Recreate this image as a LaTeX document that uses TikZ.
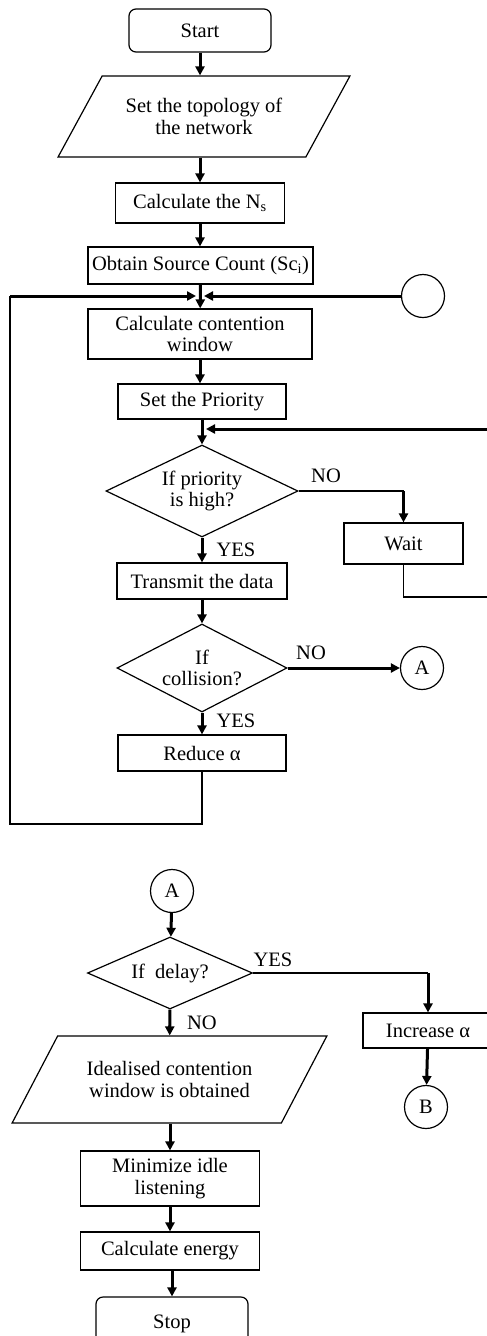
\documentclass[tikz,border=0pt]{standalone}
\usepackage{fontspec}
\setmainfont{Liberation Serif}
\usetikzlibrary{shapes.geometric,arrows.meta}

\tikzset{every picture/.style={line width=1.2pt},
  fc/.style={font=\fontsize{20.5}{21.7}\selectfont},
  box/.style={draw, rectangle, inner sep=0pt, align=center, fc},
  term/.style={box, rounded corners=7pt},
  io/.style={draw, trapezium, trapezium left angle=47, trapezium right angle=133, trapezium stretches=true, inner sep=0pt, align=center, fc},
  decision/.style={draw, diamond, inner sep=0pt, align=center, fc},
  conn/.style={draw, circle, inner sep=0pt, minimum size=43pt, fc},
  lbl/.style={inner sep=0pt, fc},
  thinline/.style={line width=1.2pt},
  flow/.style={line width=3pt, -{Triangle[length=9pt,width=9pt]}},
}

\begin{document}
\begin{tikzpicture}[x=1pt,y=1pt,yscale=-1,xscale=1]
\useasboundingbox (0,0) rectangle (487,1336);

%Terminal
\node [term, minimum width=142pt, minimum height=43pt] (start) at (200,30.5) {Start};
%Parallelogram
\node [io, minimum width=292pt, minimum height=81pt] (topo) at (204,116.5) {Set the topology of\\the network};
%Boxes
\node [box, minimum width=169pt, minimum height=40pt] (ns) at (200,203) {Calculate the N\textsubscript{s}};
\node [box, minimum width=225pt, minimum height=37pt] (src) at (200.5,265.5) {Obtain Source Count (Sc\textsubscript{i})};
\node [box, minimum width=224pt, minimum height=50pt] (cw) at (200,334) {Calculate contention\\window};
\node [box, minimum width=168pt, minimum height=35pt] (prio) at (202,401.5) {Set the Priority};
%Decision
\node [decision, minimum width=192pt, minimum height=92pt, aspect=2.09] (q1) at (202,491) {If priority\\is high?};
\node [box, minimum width=119pt, minimum height=41pt] (wait) at (403.5,543.5) {Wait};
\node [box, minimum width=170pt, minimum height=36pt] (tx) at (202,581) {Transmit the data};
\node [decision, minimum width=170pt, minimum height=88pt, aspect=1.93] (q2) at (202,668) {If\\collision?};
\node [conn] (conA) at (422,668) {A};
\node [box, minimum width=168pt, minimum height=36pt] (reduce) at (202,753) {Reduce α};
\node [conn] (conE) at (423,296) {};

%Second part
\node [conn] (conA2) at (172,891) {A};
\node [decision, minimum width=165pt, minimum height=72pt, aspect=2.29] (q3) at (170,973) {If~~delay?};
\node [box, minimum width=130pt, minimum height=35pt] (incr) at (428,1030.5) {Increase α};
\node [conn] (conB) at (426,1107) {B};
\node [io, minimum width=315pt, minimum height=87pt] (ideal) at (169.5,1079.5) {Idealised contention\\window is obtained};
\node [box, minimum width=179pt, minimum height=55pt] (idle) at (170,1178.5) {Minimize idle\\listening};
\node [box, minimum width=179pt, minimum height=38pt] (energy) at (170,1251) {Calculate energy};
\node [term, minimum width=152pt, minimum height=54pt] (stop) at (172,1324) {Stop};

% Text Node
\node [lbl] (noq1) at (326,476) {NO};
\node [lbl] (yesq1) at (236,550) {YES};
\node [lbl] (noq2) at (311,653) {NO};
\node [lbl] (yesq2) at (236,721) {YES};
\node [lbl] (yesq3) at (273,960) {YES};
\node [lbl] (noq3) at (202,1023) {NO};

% Corners
\coordinate (join1) at (200,296);
\coordinate (join2) at (202,429);
\coordinate (loopL) at (10,296);
\coordinate (loopB) at (10,824);
\coordinate (loopR) at (489,429);
\coordinate (waitB) at (489,597);
\coordinate (q1turn) at (403.5,491);
\coordinate (q3turn) at (428,973);

% Connection
\draw [flow] (start) -- (start |- topo.north);
\draw [flow] (ns |- topo.south) -- (ns);
\draw [flow] (ns) -- (ns |- src.north);
\draw [flow] (src) -- (cw);
\draw [flow] (cw) -- (cw.south |- prio.north);
\draw [flow] (prio) -- (q1);
\draw [thinline] (q1.east) -- (q1turn);
\draw [flow] (q1turn) -- (wait);
\draw [thinline] (wait) |- (waitB) -- (loopR);
\draw [flow, shorten >=4pt] (loopR) -- (join2);
\draw [flow] (q1) -- (tx);
\draw [flow] (tx) -- (q2);
\draw [flow] (q2) -- (conA);
\draw [flow] (q2) -- (reduce);
\draw [thinline] (reduce) |- (loopB) -- (loopL);
\draw [flow, shorten >=4pt] (loopL) -- (join1);
\draw [flow, shorten >=4pt] (conE) -- (join1);

\draw [flow] (conA2) -- (q3);
\draw [thinline] (q3.east) -- (q3turn);
\draw [flow] (q3turn) -- (incr);
\draw [flow] (incr) -- (conB);
\draw [flow] (q3) -- (ideal);
\draw [flow] (ideal.south -| idle) -- (idle);
\draw [flow] (idle) -- (energy);
\draw [flow] (stop |- energy.south) -- (stop);

\end{tikzpicture}
\end{document}
